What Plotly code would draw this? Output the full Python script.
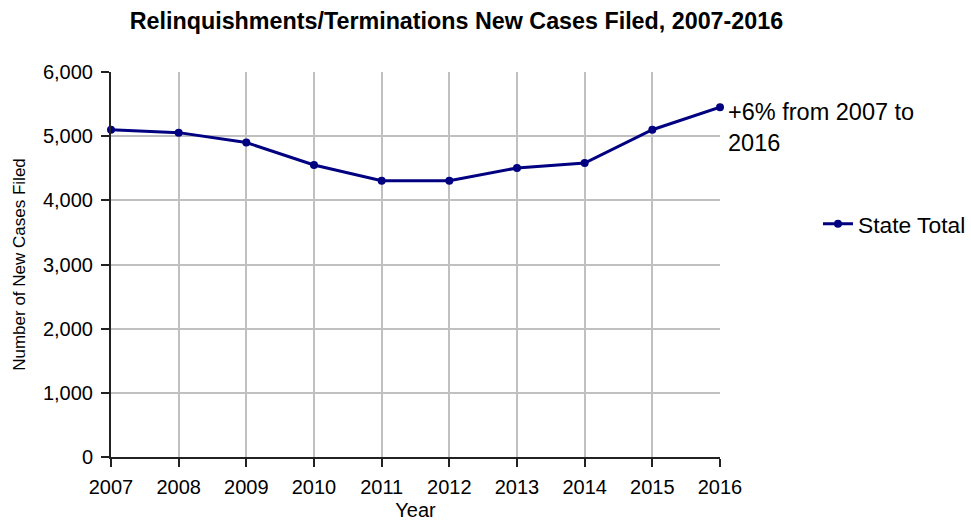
import plotly.graph_objects as go

years = [2007, 2008, 2009, 2010, 2011, 2012, 2013, 2014, 2015, 2016]
state_total = [5100, 5055, 4900, 4550, 4305, 4305, 4505, 4580, 5100, 5450]
y_ticks = [0, 1000, 2000, 3000, 4000, 5000, 6000]
y_tick_labels = ["0", "1,000", "2,000", "3,000", "4,000", "5,000", "6,000"]

FONT = "Liberation Sans, Arial, sans-serif"

fig = go.Figure()
fig.add_trace(go.Scatter(
    x=years, y=state_total, mode="lines+markers", name="State Total",
    line=dict(color="#000080", width=3),
    marker=dict(color="#000080", size=8),
    cliponaxis=False,
))

fig.add_annotation(
    x=years[-1], y=state_total[-1], xref="x", yref="y",
    text="+6% from 2007 to<br>2016", showarrow=False,
    xanchor="left", yanchor="middle", align="left", xshift=6, yshift=-20,
    font=dict(family=FONT, size=23.5, color="black"),
)

fig.update_layout(
    width=971, height=523,
    margin=dict(l=110.5, r=250.5, t=71.5, b=66, pad=0, autoexpand=False),
    paper_bgcolor="white", plot_bgcolor="white",
    font=dict(family=FONT, color="black"),
    title=dict(
        text="<b>Relinquishments/Terminations New Cases Filed, 2007-2016</b>",
        x=0.4701, xanchor="center", y=0.96, yanchor="middle",
        font=dict(family=FONT, size=23.3, color="black"),
    ),
    showlegend=True,
    legend=dict(
        xref="container", yref="container",
        x=0.8424, y=0.5717, xanchor="left", yanchor="middle",
        font=dict(family=FONT, size=22.8, color="black"),
        bgcolor="rgba(0,0,0,0)",
    ),
    xaxis=dict(
        range=[2007, 2016], tickmode="array", tickvals=years,
        ticktext=[str(y) for y in years],
        showgrid=True, gridcolor="#c0c0c0", gridwidth=1.5,
        showline=True, linecolor="#222222", linewidth=2,
        ticks="outside", ticklen=8, tickcolor="#222222", tickwidth=2,
        ticklabelstandoff=3, automargin=False,
        tickfont=dict(family=FONT, size=20),
        title=dict(text="Year", font=dict(family=FONT, size=20), standoff=6),
        zeroline=False,
    ),
    yaxis=dict(
        range=[0, 6000], tickmode="array", tickvals=y_ticks, ticktext=y_tick_labels,
        showgrid=True, gridcolor="#c0c0c0", gridwidth=1.5,
        showline=True, linecolor="#222222", linewidth=2,
        ticks="outside", ticklen=8, tickcolor="#222222", tickwidth=2,
        ticklabelstandoff=4, automargin=False,
        tickfont=dict(family=FONT, size=20),
        title=dict(text="Number of New Cases Filed", font=dict(family=FONT, size=17), standoff=13),
        zeroline=False,
    ),
)

fig.write_html("out.html", config={"displayModeBar": False},
               post_script="document.body.style.margin='0';")
